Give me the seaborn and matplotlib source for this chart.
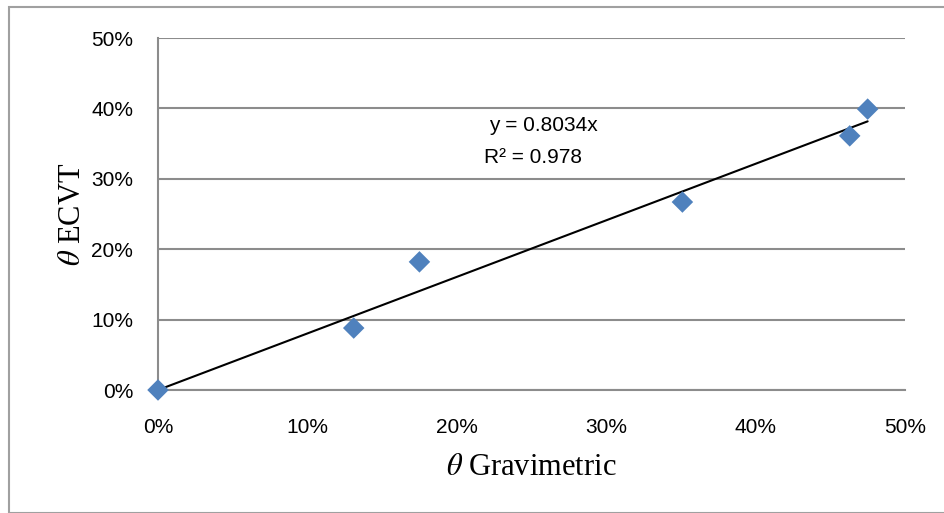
import numpy as np
import matplotlib
matplotlib.use("Agg")
import matplotlib.pyplot as plt
import seaborn as sns
from matplotlib.ticker import PercentFormatter
from matplotlib.patches import Rectangle

# data
grav = [0.0, 0.131, 0.175, 0.351, 0.463, 0.475]
ecvt = [0.0, 0.088, 0.182, 0.267, 0.361, 0.399]
slope = 0.8034
r2 = 0.978

sns.set_style("white")
plt.rcParams['font.family'] = ['Liberation Sans', 'DejaVu Sans']
plt.rcParams['mathtext.fontset'] = 'stix'
plt.rcParams['text.color'] = 'black'
plt.rcParams['axes.labelcolor'] = 'black'

fig = plt.figure(figsize=(9.44, 5.13), dpi=100)
ax = fig.add_axes([158/944, 1-390/513, (905-158)/944, (390-38)/513])

# outer chart border
fig.patches.append(Rectangle((9/944, 0), 1, 1-7/513, transform=fig.transFigure,
                             fill=False, edgecolor="#a0a0a0", linewidth=1.5, zorder=0))

# trendline through origin
xt = np.array([0, max(grav)])
ax.plot(xt, slope*xt, color="black", linewidth=1.5, zorder=3)

sns.scatterplot(x=grav, y=ecvt, marker="D", s=120, color="#4f81bd",
                edgecolor="none", ax=ax, zorder=4, clip_on=False)

ax.set_xlim(0, 0.5)
ax.set_ylim(0, 0.5)
ax.set_xticks(np.arange(0, 0.51, 0.1))
ax.set_yticks(np.arange(0, 0.51, 0.1))
ax.xaxis.set_major_formatter(PercentFormatter(1.0, decimals=0))
ax.yaxis.set_major_formatter(PercentFormatter(1.0, decimals=0))
ax.grid(axis="y", color="#8c8c8c", linewidth=1.5)
ax.set_axisbelow(True)

for s in ["top", "right"]:
    ax.spines[s].set_visible(False)
for s in ["left", "bottom"]:
    ax.spines[s].set_color("#8c8c8c")
    ax.spines[s].set_linewidth(1.5)
ax.tick_params(axis="both", direction="out", length=6, width=1.5, color="#8c8c8c",
               labelcolor="black", labelsize=15)
ax.tick_params(axis="x", pad=14)
ax.tick_params(axis="y", pad=12)

ax.set_xlabel(r"$\theta$ Gravimetric", family="Liberation Serif", fontsize=22, labelpad=12)
ax.set_ylabel(r"$\theta$ ECVT", family="Liberation Serif", fontsize=22, labelpad=3)

ax.text(0.258, 0.376, "y = 0.8034x", fontsize=15, ha="center", va="center")
ax.text(0.251, 0.330, "R² = 0.978", fontsize=15, ha="center", va="center")

fig.savefig("out.png", dpi=100)
